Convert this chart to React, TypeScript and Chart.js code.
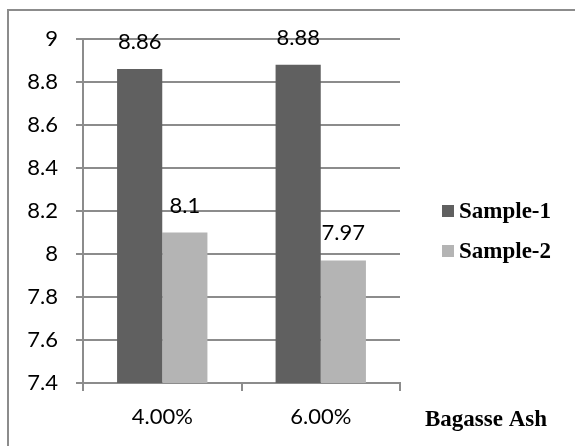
import { useEffect, useRef } from 'react';
import { Chart, registerables } from 'chart.js';

Chart.register(...registerables);

// Bagasse ash content on the x axis, one bar per sample
const categories = ['4.00%', '6.00%'];
const seriesNames = ['Sample-1', 'Sample-2'];
const sample1 = [8.86, 8.88];
const sample2 = [8.1, 7.97];
const yTickValues = [7.4, 7.6, 7.8, 8, 8.2, 8.4, 8.6, 8.8, 9];
const xAxisTitle = 'Bagasse Ash';

const DARK = '#606060';
const LIGHT = '#b4b4b4';
const GRID = '#8c8c8c';
const NUM_FONT = 'Lato, "Open Sans", sans-serif';
const NUM_SIZE = 22;
const SERIF = '"Liberation Serif", "Times New Roman", serif';

// Frame, value labels, legend and axis title drawn straight on the canvas
const decorations = {
  id: 'decorations',
  beforeDraw(chart: any) {
    const { ctx } = chart;
    ctx.save();
    ctx.strokeStyle = GRID;
    ctx.lineWidth = 2;
    ctx.beginPath();
    ctx.moveTo(8, chart.height);
    ctx.lineTo(8, 10);
    ctx.lineTo(chart.width, 10);
    ctx.stroke();
    ctx.restore();
  },
  afterDatasetsDraw(chart: any) {
    const { ctx, chartArea } = chart;
    ctx.save();
    ctx.fillStyle = '#000';
    ctx.font = `${NUM_SIZE}px ${NUM_FONT}`;
    ctx.textAlign = 'center';
    ctx.textBaseline = 'alphabetic';
    chart.data.datasets.forEach((ds: any, i: number) => {
      const meta = chart.getDatasetMeta(i);
      meta.data.forEach((bar: any, j: number) => {
        ctx.fillText(String(ds.data[j]), bar.x, bar.y - 20);
      });
    });

    ctx.font = `bold 23px ${SERIF}`;
    ctx.textAlign = 'left';
    const legendX = chartArea.right + 42;
    const rowMid = [210, 250];
    chart.data.datasets.forEach((ds: any, i: number) => {
      const mid = rowMid[i];
      ctx.fillStyle = ds.backgroundColor;
      ctx.fillRect(legendX, mid - 5, 12, 12);
      ctx.fillStyle = '#000';
      ctx.fillText(ds.label, legendX + 17, mid + 7.5);
    });

    ctx.textAlign = 'center';
    ctx.fillText(xAxisTitle, chartArea.right + 86, 426);
    ctx.restore();
  },
};

export default function App() {
  const canvasRef = useRef<HTMLCanvasElement | null>(null);

  useEffect(() => {
    const canvas = canvasRef.current;
    if (!canvas) return;
    const chart = new Chart(canvas, {
      type: 'bar',
      data: {
        labels: categories,
        datasets: [
          {
            label: seriesNames[0],
            data: sample1,
            backgroundColor: DARK,
            borderWidth: 0,
            categoryPercentage: 0.57,
            barPercentage: 1,
          },
          {
            label: seriesNames[1],
            data: sample2,
            backgroundColor: LIGHT,
            borderWidth: 0,
            categoryPercentage: 0.57,
            barPercentage: 1,
          },
        ],
      },
      options: {
        responsive: false,
        animation: false,
        devicePixelRatio: 1,
        layout: { padding: { top: 39, right: 175, left: 0, bottom: 0 } },
        plugins: {
          legend: { display: false },
          tooltip: { enabled: false },
        },
        scales: {
          x: {
            grid: {
              offset: true,
              drawOnChartArea: false,
              drawTicks: true,
              tickLength: 8,
              color: GRID,
              lineWidth: 2,
            },
            border: { display: true, color: GRID, width: 2 },
            ticks: {
              font: { family: NUM_FONT, size: NUM_SIZE },
              color: '#000',
              padding: 13,
              maxRotation: 0,
            },
            afterFit: (s: any) => {
              s.height = 63;
            },
          },
          y: {
            min: 7.4,
            max: 9,
            afterBuildTicks: (s: any) => {
              s.ticks = yTickValues.map((v) => ({ value: v }));
            },
            grid: { color: GRID, lineWidth: 2, tickLength: 7 },
            border: { color: GRID, width: 2 },
            ticks: {
              font: { family: NUM_FONT, size: NUM_SIZE },
              color: '#000',
              padding: 18,
              callback: (v: any) => String(v),
            },
            afterFit: (s: any) => {
              s.width = 83;
            },
          },
        },
      },
      plugins: [decorations],
    });
    return () => chart.destroy();
  }, []);

  return (
    <div style={{ position: 'absolute', left: 0, top: 0, width: 575, height: 446, background: '#fff' }}>
      <canvas ref={canvasRef} width={575} height={446} style={{ display: 'block' }} />
    </div>
  );
}
